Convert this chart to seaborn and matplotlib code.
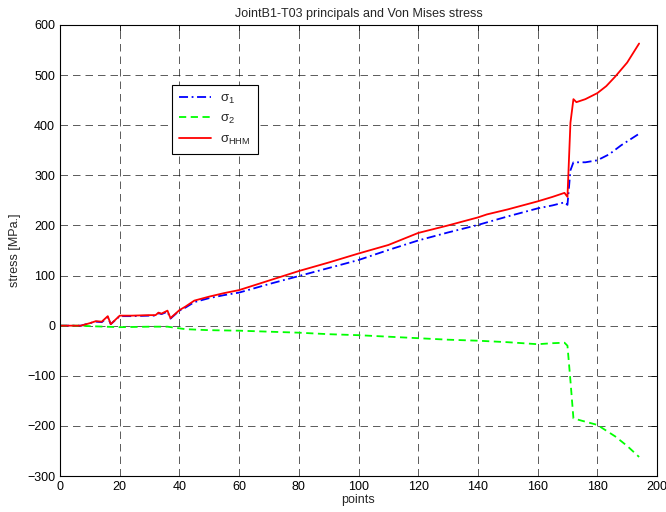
import numpy as np
import pandas as pd
import matplotlib
matplotlib.use('Agg')
import matplotlib.pyplot as plt
import seaborn as sns

### values
x_s1 = [0, 7, 10, 12, 14, 16, 17, 20, 24, 30, 32, 33, 34, 36, 37, 40, 42, 45, 50, 55, 60, 70, 80, 90,
        100, 110, 120, 130, 140, 150, 160, 165, 169, 170, 171, 172, 176, 180, 184, 188, 194]
s1 = [0, 0, 5, 8, 7, 17, 3, 19, 19, 20, 20, 25, 23, 28, 14, 30, 36, 47, 55, 61, 66, 83, 99, 115,
      131, 151, 170, 186, 201, 218, 234, 240, 246, 241, 310, 326, 326, 330, 342, 360, 383]

x_s2 = [0, 7, 10, 20, 30, 36, 42, 50, 60, 70, 80, 90, 100, 110, 120, 130, 140, 150, 160, 165, 169,
        170, 171, 172, 175, 180, 186, 190, 194]
s2 = [0, 0, -1, -3, -2, -2, -7, -9, -10, -12, -14, -17, -19, -22, -25, -28, -30, -33, -37, -35, -34,
      -40, -110, -185, -190, -198, -221, -240, -262]

x_hhm = [0, 7, 10, 12, 14, 16, 17, 20, 24, 30, 32, 33, 34, 36, 37, 40, 42, 45, 50, 55, 60, 70, 80, 90,
         100, 110, 120, 130, 140, 143, 150, 160, 165, 169, 170, 171, 172, 173, 176, 180, 183, 186, 190, 194]
s_hhm = [0, 0, 5, 9, 8, 19, 3, 20, 20, 21, 21, 26, 24, 30, 15, 31, 38, 50, 58, 65, 71, 90, 109, 126,
         144, 161, 185, 200, 216, 222, 232, 248, 257, 265, 257, 405, 452, 446, 452, 464, 478, 497, 525, 563]

df1 = pd.DataFrame({'points': x_s1, 'stress': s1})
df2 = pd.DataFrame({'points': x_s2, 'stress': s2})
df3 = pd.DataFrame({'points': x_hhm, 'stress': s_hhm})

sns.set_style('white')
plt.rcParams['font.family'] = ['Liberation Sans', 'DejaVu Sans']
plt.rcParams['mathtext.default'] = 'regular'

fig = plt.figure(figsize=(6.66, 5.12), dpi=100)
ax = fig.add_axes([0.0901, 0.0703, 0.8964, 0.8809])

sns.lineplot(data=df1, x='points', y='stress', ax=ax, color='#0000ff', lw=1.3,
             linestyle=(0, (5, 2, 1, 2)), estimator=None, sort=False, label=r'$σ_1$')
sns.lineplot(data=df2, x='points', y='stress', ax=ax, color='#00ff00', lw=1.3,
             linestyle=(0, (4, 2.5)), estimator=None, sort=False, label=r'$σ_2$')
sns.lineplot(data=df3, x='points', y='stress', ax=ax, color='#ff0000', lw=1.3,
             linestyle='-', estimator=None, sort=False, label=r'$σ_{HHM}$')

ax.set_xlim(0, 200)
ax.set_ylim(-300, 600)
ax.set_xticks(np.arange(0, 201, 20))
ax.set_yticks(np.arange(-300, 601, 100))
ax.grid(True, color='black', lw=0.6, linestyle=(0, (9, 6)), alpha=0.75)
ax.tick_params(direction='in', top=True, right=True, labelsize=9, length=4, width=0.6, colors='black')
for sp in ax.spines.values():
    sp.set_color('black')
    sp.set_linewidth(0.8)

ax.set_xlabel('points', fontsize=9, labelpad=1)
ax.set_ylabel('stress [MPa.]', fontsize=9, labelpad=4)
ax.set_title('JointB1-T03 principals and Von Mises stress', fontsize=9, pad=6)

leg = ax.legend(loc='upper left', bbox_to_anchor=(0.188, 0.867), borderaxespad=0, fontsize=9.5,
                frameon=True, fancybox=False, framealpha=1, edgecolor='black', handlelength=2.4,
                handletextpad=0.7, borderpad=0.55, labelspacing=0.55)
leg.get_frame().set_linewidth(0.8)

plt.savefig('out.png', dpi=100)
